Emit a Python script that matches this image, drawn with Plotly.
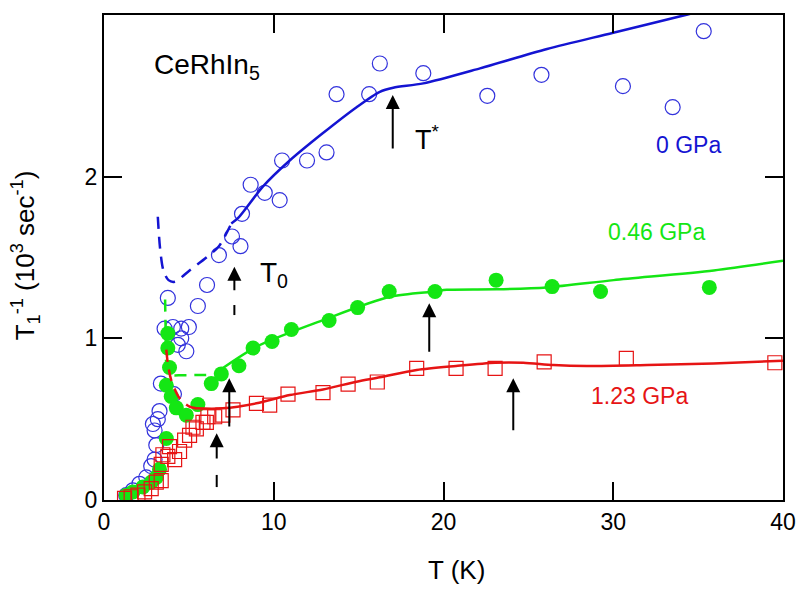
import plotly.graph_objects as go

# ---------------- data ----------------
# 0 GPa (open blue circles)
T_0 = [1.31, 1.70, 2.09, 2.49, 2.78, 2.98, 3.08, 2.98, 2.88, 3.17, 3.27, 3.35, 4.12,
       3.57, 3.76, 4.06, 4.35, 4.55, 4.85, 5.00, 4.55, 5.53, 6.07, 6.77, 7.54, 8.04,
       8.13, 8.64, 9.47, 10.35, 10.49, 11.96, 13.11, 13.70, 15.62, 16.25, 18.81,
       22.58, 25.77, 30.57, 33.50, 35.33]
R_0 = [0.03, 0.06, 0.10, 0.14, 0.21, 0.25, 0.34, 0.43, 0.47, 0.50, 0.55, 0.72, 0.655,
       1.06, 1.25, 1.07, 0.96, 1.06, 0.92, 1.07, 1.00, 1.20, 1.33, 1.515, 1.63, 1.57,
       1.77, 1.95, 1.90, 1.855, 2.10, 2.10, 2.15, 2.51, 2.51, 2.70, 2.64,
       2.50, 2.63, 2.56, 2.43, 2.90]

# 0.46 GPa (filled green circles)
T_046 = [1.31, 1.70, 2.29, 2.78, 3.08, 3.27, 3.67, 3.67, 3.76, 3.76, 3.86, 3.96, 4.26,
         4.85, 5.53, 6.32, 6.91, 7.95, 8.78, 9.90, 11.04, 13.26, 14.94, 16.80, 19.50,
         23.10, 26.40, 29.25, 35.66]
R_046 = [0.03, 0.05, 0.08, 0.11, 0.14, 0.19, 0.38, 0.71, 0.94, 1.03, 0.82, 0.64, 0.57,
         0.525, 0.59, 0.72, 0.78, 0.83, 0.94, 0.98, 1.055, 1.11, 1.19, 1.29, 1.29,
         1.36, 1.32, 1.29, 1.315]

# 1.23 GPa (open red squares)
T_123 = [1.21, 1.60, 2.00, 2.39, 2.78, 3.08, 3.37, 3.37, 3.47, 3.76, 3.86, 4.16, 4.45,
         4.75, 5.04, 5.24, 5.44, 5.83, 6.03, 6.12, 6.52, 7.00, 7.60, 8.98, 9.76, 10.84,
         12.90, 14.38, 16.10, 18.42, 20.74, 23.04, 25.93, 30.77, 39.52]
R_123 = [0.01, 0.02, 0.03, 0.05, 0.07, 0.11, 0.12, 0.22, 0.28, 0.27, 0.33, 0.25, 0.30,
         0.37, 0.40, 0.45, 0.44, 0.48, 0.48, 0.515, 0.515, 0.525, 0.557, 0.598, 0.587,
         0.655, 0.664, 0.717, 0.73, 0.814, 0.814, 0.814, 0.855, 0.876, 0.849]

# guide curves
fit0_T = [7.5, 7.95, 9.37, 10.94, 12.9, 14.88, 16.25, 17.04, 18.81, 22.15, 26.1, 30.0, 34.44, 35.5]
fit0_R = [1.71, 1.75, 1.94, 2.10, 2.27, 2.43, 2.525, 2.55, 2.577, 2.67, 2.79, 2.89, 3.005, 3.03]
dash0_T = [3.17, 3.3, 3.5, 3.8, 4.16, 5.04, 6.03, 6.77, 7.5]
dash0_R = [1.752, 1.56, 1.42, 1.36, 1.35, 1.42, 1.50, 1.57, 1.71]

fit046_T = [6.5, 8.98, 12.91, 16.84, 19.5, 20.19, 23.14, 26.09, 30.02, 35.92, 40.0]
fit046_R = [0.78, 0.948, 1.113, 1.257, 1.29, 1.30, 1.303, 1.315, 1.36, 1.42, 1.48]
dash046_T = [3.6, 3.64, 3.7, 3.95, 4.6, 6.5]
dash046_R = [1.24, 1.0, 0.82, 0.775, 0.772, 0.775]

fit123_T = [5.34, 7.0, 8.98, 10.94, 12.9, 14.88, 16.25, 18.42, 20.74, 23.04, 24.7,
            26.48, 28.45, 32.0, 35.9, 40.0]
fit123_R = [0.567, 0.567, 0.598, 0.649, 0.684, 0.732, 0.759, 0.804, 0.829, 0.849, 0.849,
            0.835, 0.829, 0.835, 0.845, 0.861]
dash123_T = [3.67, 3.76, 3.96, 4.45, 5.04, 5.44]
dash123_R = [0.93, 0.845, 0.742, 0.629, 0.577, 0.567]

# arrows (T*, T0 markers)
arrow_T = [17.01, 7.68, 7.38, 6.64, 19.16, 24.11]
arrow_tip = [2.505, 1.443, 0.753, 0.413, 1.217, 0.753]
arrow_tail = [2.165, 1.288, 0.445, 0.247, 0.907, 0.422]
stub_T = [7.68, 6.64]
stub_top = [1.206, 0.155]
stub_bot = [1.144, 0.08]

BLUE = "#1414d2"
GREEN = "#14e614"
RED = "#e61414"
FONT = "Liberation Sans"

fig = go.Figure()

fig.add_trace(go.Scatter(x=T_0, y=R_0, mode="markers",
                         marker=dict(symbol="circle-open", size=15, color="#3232dc",
                                     line=dict(width=1.2, color="#3232dc"))))
fig.add_trace(go.Scatter(x=T_046, y=R_046, mode="markers",
                         marker=dict(symbol="circle", size=15, color=GREEN,
                                     line=dict(width=0))))
fig.add_trace(go.Scatter(x=T_123, y=R_123, mode="markers",
                         marker=dict(symbol="square-open", size=14, color=RED,
                                     line=dict(width=1.2, color=RED))))

for xs, ys, c, d in [(dash0_T, dash0_R, BLUE, "12px,8px"), (fit0_T, fit0_R, BLUE, "solid"),
                     (dash046_T, dash046_R, GREEN, "12px,8px"), (fit046_T, fit046_R, GREEN, "solid"),
                     (dash123_T, dash123_R, RED, "12px,8px"), (fit123_T, fit123_R, RED, "solid")]:
    fig.add_trace(go.Scatter(x=xs, y=ys, mode="lines",
                             line=dict(color=c, width=2.5, dash=d, shape="spline", smoothing=0.8)))

for t, tip, tail in zip(arrow_T, arrow_tip, arrow_tail):
    fig.add_annotation(x=t, y=tip, ax=t, ay=tail, xref="x", yref="y", axref="x", ayref="y",
                       text="", showarrow=True, arrowhead=2, arrowsize=1.4, arrowwidth=2,
                       arrowcolor="black")
for t, a, b in zip(stub_T, stub_top, stub_bot):
    fig.add_shape(type="line", x0=t, x1=t, y0=a, y1=b, xref="x", yref="y",
                  line=dict(color="black", width=2))

labels = [
    (2.83, 2.68, "CeRhIn<sub>5</sub>", "black", 28, "left"),
    (34.43, 2.196, "0 GPa", BLUE, 23, "center"),
    (32.52, 1.655, "0.46 GPa", GREEN, 23, "center"),
    (31.52, 0.643, "1.23 GPa", RED, 23, "center"),
    (18.2, 2.239, "T<sup>*</sup>", "black", 27, "left"),
    (9.07, 1.392, "T<sub>0</sub>", "black", 28, "left"),
]
for x, y, txt, c, s, anc in labels:
    fig.add_annotation(x=x, y=y, xref="x", yref="y", text=txt, showarrow=False,
                       xanchor=anc, yanchor="middle", font=dict(family=FONT, size=s, color=c))

fig.add_annotation(x=0.519, y=-0.144, xref="paper", yref="paper", text="T (K)",
                   showarrow=False, xanchor="center", yanchor="middle",
                   font=dict(family=FONT, size=26, color="black"))
fig.add_annotation(x=-0.116, y=0.505, xref="paper", yref="paper",
                   text="T<sub>1</sub><sup>-1</sup> (10<sup>3</sup> sec<sup>-1</sup>)",
                   textangle=-90, showarrow=False, xanchor="center", yanchor="middle",
                   font=dict(family=FONT, size=26, color="black"))

axis_common = dict(showline=True, linecolor="black", linewidth=2, mirror="ticks",
                   ticks="inside", ticklen=18, tickwidth=2, tickcolor="black",
                   showgrid=False, zeroline=False, automargin=False,
                   tickfont=dict(family=FONT, size=23, color="black"))
fig.update_xaxes(range=[0, 40], dtick=10, tick0=0, **axis_common)
fig.update_yaxes(range=[0, 3], dtick=1, tick0=0, **axis_common)

# page body adds an 8px offset; figure is sized so the plot box lands at x 104-783, y 15-500
fig.update_layout(width=796, height=584, showlegend=False,
                  margin=dict(l=96, r=21, t=7, b=92),
                  paper_bgcolor="white", plot_bgcolor="white")

fig.write_html("out.html")
